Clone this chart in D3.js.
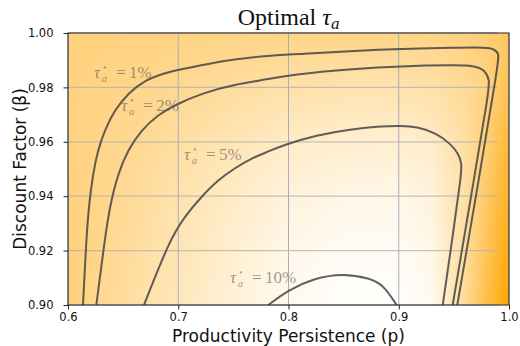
<!DOCTYPE html>
<html>
<head>
<meta charset="utf-8">
<script src="https://cdn.jsdelivr.net/npm/d3@7"></script>
<style>
  body { margin: 0; background: #fff; }
  svg { display: block; }
</style>
</head>
<body>
<svg id="chart" width="520" height="346"></svg>
<script>
// ---- axis ticks ----
const xTicks = [0.6, 0.7, 0.8, 0.9, 1.0];
const yTicks = [0.90, 0.92, 0.94, 0.96, 0.98, 1.00];

// ---- background surface: colour intensity on a (p, beta) grid, 0 = white, 1 = full orange ----
const gridP = [0.60, 0.65, 0.70, 0.75, 0.80, 0.85, 0.90, 0.93, 0.96, 0.98, 1.00];
const gridBeta = [0.90, 0.92, 0.94, 0.96, 0.98, 1.00];
const shade = [
  [0.53, 0.38, 0.27, 0.15, 0.06, 0.01, 0.01, 0.06, 0.40, 0.72, 1.00], // beta 0.90
  [0.52, 0.40, 0.29, 0.18, 0.09, 0.04, 0.04, 0.09, 0.38, 0.66, 0.94], // beta 0.92
  [0.51, 0.42, 0.32, 0.22, 0.14, 0.10, 0.09, 0.14, 0.35, 0.60, 0.87], // beta 0.94
  [0.50, 0.44, 0.37, 0.29, 0.22, 0.19, 0.18, 0.22, 0.36, 0.54, 0.79], // beta 0.96
  [0.50, 0.47, 0.43, 0.38, 0.34, 0.32, 0.32, 0.34, 0.41, 0.50, 0.68], // beta 0.98
  [0.51, 0.50, 0.49, 0.48, 0.47, 0.47, 0.47, 0.48, 0.51, 0.55, 0.62]  // beta 1.00
];

// ---- iso-lines of the optimal tau_a, as (p, beta) pairs ----
const levels = ["1%", "2%", "5%", "10%"];
const iso1 = [
  [0.6136, 0.9000], [0.6166, 0.9239], [0.6188, 0.9361], [0.6227, 0.9484], [0.6272, 0.9570],
  [0.6333, 0.9643], [0.6424, 0.9717], [0.6544, 0.9778], [0.6696, 0.9827], [0.6907, 0.9858],
  [0.7209, 0.9882], [0.7512, 0.9904], [0.7814, 0.9917], [0.8104, 0.9923], [0.8621, 0.9935],
  [0.9011, 0.9941], [0.9528, 0.9946], [0.9800, 0.9947], [0.9864, 0.9941], [0.9905, 0.9925],
  [0.9909, 0.9901], [0.9721, 0.9450], [0.9531, 0.9000]
];
const iso2 = [
  [0.6257, 0.9000], [0.6333, 0.9239], [0.6378, 0.9361], [0.6454, 0.9484], [0.6544, 0.9570],
  [0.6665, 0.9643], [0.6816, 0.9699], [0.6968, 0.9735], [0.7209, 0.9778], [0.7512, 0.9811],
  [0.7814, 0.9830], [0.8014, 0.9847], [0.8619, 0.9869], [0.8996, 0.9878], [0.9526, 0.9882],
  [0.9676, 0.9880], [0.9782, 0.9865], [0.9823, 0.9827], [0.9819, 0.9790], [0.9654, 0.9395],
  [0.9489, 0.9000]
];
const iso5 = [
  [0.6689, 0.9000], [0.6922, 0.9239], [0.7058, 0.9325], [0.7209, 0.9398], [0.7361, 0.9460],
  [0.7512, 0.9503], [0.7663, 0.9539], [0.7814, 0.9564], [0.7953, 0.9588], [0.8256, 0.9625],
  [0.8558, 0.9646], [0.8860, 0.9658], [0.9011, 0.9659], [0.9163, 0.9656], [0.9344, 0.9631],
  [0.9465, 0.9594], [0.9540, 0.9558], [0.9571, 0.9521], [0.9569, 0.9484], [0.9483, 0.9235],
  [0.9399, 0.9000]
];
const iso10 = [
  [0.7817, 0.9000], [0.7998, 0.9055], [0.8225, 0.9098], [0.8497, 0.9117], [0.8739, 0.9098],
  [0.8860, 0.9074], [0.8981, 0.9000]
];
const isoLines = [iso1, iso2, iso5, iso10];
// anchor (left end, baseline) of each level's label, in (p, beta)
const labelP = [0.6236, 0.6483, 0.7052, 0.7469];
const labelBeta = [0.9833, 0.9713, 0.9533, 0.9082];

// ---- layout ----
const svg = d3.select("#chart");
const x = d3.scaleLinear().domain([0.6, 1.0]).range([68, 509]);
const y = d3.scaleLinear().domain([0.90, 1.00]).range([305, 33]);
const [x0, x1] = x.range();
const [y1, y0] = y.range();
const pw = x1 - x0, ph = y1 - y0;

svg.append("defs").append("clipPath").attr("id", "plotClip")
  .append("rect").attr("x", x0).attr("y", y0).attr("width", pw).attr("height", ph);

// ---- background raster (bilinear over the shade grid) ----
function locate(arr, v) {
  let i = d3.bisectRight(arr, v) - 1;
  i = Math.max(0, Math.min(arr.length - 2, i));
  const f = Math.max(0, Math.min(1, (v - arr[i]) / (arr[i + 1] - arr[i])));
  return [i, f];
}
const cv = document.createElement("canvas");
cv.width = pw; cv.height = ph;
const ctx = cv.getContext("2d");
const img = ctx.createImageData(pw, ph);
const cFrom = d3.rgb("#ffffff"), cTo = d3.rgb("#ffa500");
for (let j = 0; j < ph; j++) {
  const b = y.invert(y0 + j + 0.5);
  const [r, fy] = locate(gridBeta, b);
  for (let i = 0; i < pw; i++) {
    const p = x.invert(x0 + i + 0.5);
    const [c, fx] = locate(gridP, p);
    const lo = (1 - fx) * shade[r][c] + fx * shade[r][c + 1];
    const hi = (1 - fx) * shade[r + 1][c] + fx * shade[r + 1][c + 1];
    const t = (1 - fy) * lo + fy * hi;
    const k = (j * pw + i) * 4;
    img.data[k] = cFrom.r + (cTo.r - cFrom.r) * t;
    img.data[k + 1] = cFrom.g + (cTo.g - cFrom.g) * t;
    img.data[k + 2] = cFrom.b + (cTo.b - cFrom.b) * t;
    img.data[k + 3] = 255;
  }
}
ctx.putImageData(img, 0, 0);
svg.append("image")
  .attr("x", x0).attr("y", y0).attr("width", pw).attr("height", ph)
  .attr("preserveAspectRatio", "none")
  .attr("href", cv.toDataURL());

// ---- grid ----
const grid = svg.append("g");
grid.selectAll("line.h").data(yTicks).join("line").attr("class", "h")
  .attr("x1", x(0.6)).attr("x2", x(0.99))
  .attr("y1", d => y(d)).attr("y2", d => y(d))
  .attr("stroke", "#b0b0b0").attr("stroke-opacity", 0.75).attr("stroke-width", 1.3);
grid.selectAll("line.v").data(xTicks).join("line").attr("class", "v")
  .attr("x1", d => x(d)).attr("x2", d => x(d))
  .attr("y1", y0).attr("y2", y1)
  .attr("stroke", "#a9adbb").attr("stroke-width", 1);

// ---- iso-lines ----
const line = d3.line()
  .x(d => x(d[0])).y(d => y(d[1]))
  .curve(d3.curveBasis);
svg.append("g").attr("clip-path", "url(#plotClip)")
  .selectAll("path").data(isoLines).join("path")
  .attr("d", line)
  .attr("fill", "none")
  .attr("stroke", "#444")
  .attr("stroke-opacity", 0.85)
  .attr("stroke-width", 2);

// ---- level labels: tau_a^* = value ----
const lab = svg.append("g")
  .attr("font-family", "'Liberation Serif', serif")
  .attr("fill", "#555").attr("fill-opacity", 0.6);
levels.forEach((lv, i) => {
  const lx = x(labelP[i]), ly = y(labelBeta[i]);
  const t = lab.append("text").attr("x", lx).attr("y", ly).attr("font-size", 17);
  t.append("tspan").attr("font-style", "italic").text("τ");
  t.append("tspan").attr("x", lx + 8).attr("y", ly - 8)
    .attr("font-family", "'DejaVu Sans', sans-serif").attr("font-size", 9).text("⋆");
  t.append("tspan").attr("x", lx + 7.8).attr("y", ly + 4)
    .attr("font-size", 10.5).attr("font-style", "italic").text("a");
  t.append("tspan").attr("x", lx + 22).attr("y", ly).text("=");
  t.append("tspan").attr("x", lx + 35).attr("y", ly).text(lv);
});

// ---- frame ----
svg.append("rect").attr("x", x0).attr("y", y0).attr("width", pw).attr("height", ph)
  .attr("fill", "none").attr("stroke", "#222").attr("stroke-width", 1);

// ---- axes ----
const xAxis = svg.append("g").attr("transform", `translate(0,${y1})`)
  .call(d3.axisBottom(x).tickValues(xTicks).tickFormat(d3.format(".1f")).tickSize(4.5).tickPadding(3.5));
const yAxis = svg.append("g").attr("transform", `translate(${x0},0)`)
  .call(d3.axisLeft(y).tickValues(yTicks).tickFormat(d3.format(".2f")).tickSize(4.5).tickPadding(10));
[xAxis, yAxis].forEach(a => {
  a.select(".domain").remove();
  a.selectAll("line").attr("stroke", "#222");
  a.selectAll("text").attr("font-family", "'DejaVu Sans', sans-serif")
    .attr("font-size", 11.5).attr("fill", "#111");
});

// ---- titles ----
const title = svg.append("text").attr("x", (x0 + x1) / 2).attr("y", 25)
  .attr("text-anchor", "middle")
  .attr("font-family", "'Liberation Serif', serif").attr("font-size", 24).attr("fill", "#111");
title.append("tspan").text("Optimal ");
title.append("tspan").attr("font-style", "italic").text("τ");
title.append("tspan").attr("font-style", "italic").attr("font-size", 17).attr("dy", 4).text("a");

svg.append("text").attr("x", (x0 + x1) / 2).attr("y", 342)
  .attr("text-anchor", "middle")
  .attr("font-family", "'DejaVu Sans', sans-serif").attr("font-size", 17).attr("fill", "#111")
  .text("Productivity Persistence (p)");
svg.append("text")
  .attr("transform", `translate(25.5,${(y0 + y1) / 2}) rotate(-90)`)
  .attr("text-anchor", "middle")
  .attr("font-family", "'DejaVu Sans', sans-serif").attr("font-size", 17).attr("fill", "#111")
  .text("Discount Factor (β)");
</script>
</body>
</html>
